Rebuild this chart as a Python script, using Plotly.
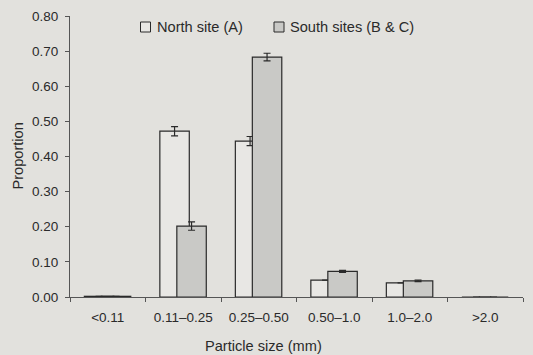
import plotly.graph_objects as go

categories = ["<0.11", "0.11–0.25", "0.25–0.50", "0.50–1.0", "1.0–2.0", ">2.0"]
north_vals = [0.002, 0.472, 0.444, 0.048, 0.040, 0.0]
north_err = [0.0, 0.013, 0.013, 0.0, 0.0, 0.0]
south_vals = [0.002, 0.202, 0.683, 0.073, 0.046, 0.0]
south_err = [0.0, 0.012, 0.011, 0.003, 0.002, 0.0]
series_names = ["North site (A)", "South sites (B & C)"]

W, H = 533, 355
ML, MR, MT, MB = 70, 10, 16, 58
PW, PH = W - ML - MR, H - MT - MB

def px(x):
    return (x - ML) / PW

def py(y):
    return (H - MB - y) / PH

bg = "#e2e1dd"
north_fill = "#e8e7e4"
south_fill = "#c9c9c6"
ink = "#2a2a2a"

fig = go.Figure()
fig.add_trace(go.Bar(
    x=categories, y=north_vals, name=series_names[0],
    width=0.39, offset=-0.31,
    marker=dict(color=north_fill, line=dict(color=ink, width=1.2)),
    error_y=dict(type="data", array=north_err, color=ink, thickness=1.2, width=3.5),
))
fig.add_trace(go.Bar(
    x=categories, y=south_vals, name=series_names[1],
    width=0.39, offset=-0.085,
    marker=dict(color=south_fill, line=dict(color=ink, width=1.2)),
    error_y=dict(type="data", array=south_err, color=ink, thickness=1.2, width=3.5),
))

# manual legend (box + text)
legend_items = [(140.5, 155, north_fill, series_names[0]),
                (274, 288, south_fill, series_names[1])]
shapes, annotations = [], []
for bx, tx, fill, label in legend_items:
    shapes.append(dict(type="rect", xref="paper", yref="paper",
                       x0=px(bx), x1=px(bx + 10), y0=py(32), y1=py(22),
                       fillcolor=fill, line=dict(color=ink, width=1)))
    annotations.append(dict(xref="paper", yref="paper", x=px(tx), y=py(27),
                            xanchor="left", yanchor="middle", showarrow=False,
                            text=label, font=dict(size=14.6, color=ink)))

annotations.append(dict(xref="paper", yref="paper", x=px(263.5), y=py(346),
                        xanchor="center", yanchor="middle", showarrow=False,
                        text="Particle size (mm)", font=dict(size=14.6, color=ink)))
annotations.append(dict(xref="paper", yref="paper", x=px(17.5), y=py(156),
                        xanchor="center", yanchor="middle", showarrow=False,
                        textangle=-90,
                        text="Proportion", font=dict(size=14.6, color=ink)))

fig.update_layout(
    width=W, height=H,
    barmode="overlay",
    paper_bgcolor=bg, plot_bgcolor=bg,
    margin=dict(l=ML, r=MR, t=MT, b=MB, autoexpand=False),
    font=dict(family="Liberation Sans, Arial, sans-serif", size=13.5, color=ink),
    showlegend=False,
    shapes=shapes,
    annotations=annotations,
    xaxis=dict(
        automargin=False,
        showline=True, linecolor="#555", linewidth=1,
        ticks="outside", tickson="boundaries", ticklen=4, tickcolor="#555",
        showgrid=False, tickfont=dict(size=13.5), ticklabelstandoff=8,
    ),
    yaxis=dict(
        automargin=False,
        range=[0, 0.8], dtick=0.1, tickformat=".2f",
        showline=True, linecolor="#555", linewidth=1,
        ticks="outside", ticklen=4, tickcolor="#555",
        showgrid=False, zeroline=False, tickfont=dict(size=13.5),
        ticklabelstandoff=4,
    ),
)

fig.write_html(
    "out.html",
    config={"displayModeBar": False},
    post_script="document.body.style.margin='0';document.body.style.padding='0';"
                "document.body.style.overflow='hidden';",
)
